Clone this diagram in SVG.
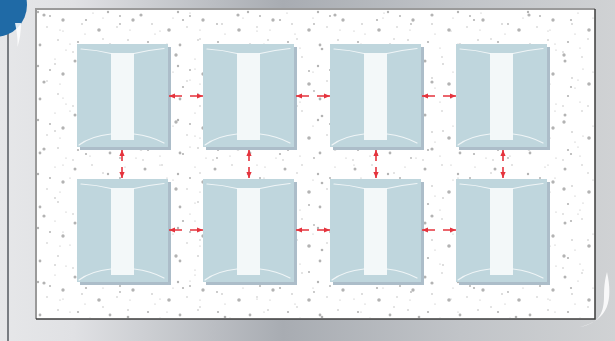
<svg xmlns="http://www.w3.org/2000/svg" xmlns:xlink="http://www.w3.org/1999/xlink" width="615" height="341" viewBox="0 0 615 341">
<style>
.blk{fill:#bfd6dd}
.shd{fill:#acbdc9}
.inn{fill:#f3f8f9}
.hl{fill:none;stroke:#ffffff;stroke-width:1.2;stroke-opacity:0.75;stroke-linecap:round}
.dot{fill:#b3b3b3}
.h{stroke:#e5333d;stroke-width:1.6;fill:none;stroke-dasharray:13 8;marker-start:url(#arr);marker-end:url(#arr)}
.v{stroke:#e5333d;stroke-width:1.6;fill:none;stroke-dasharray:11 6;marker-start:url(#arr);marker-end:url(#arr)}
</style>
<defs>
<linearGradient id="bg" x1="0" y1="0" x2="1" y2="0">
<stop offset="0" stop-color="#e6e7e9"/>
<stop offset="0.12" stop-color="#e0e1e4"/>
<stop offset="0.46" stop-color="#a8acb2"/>
<stop offset="0.75" stop-color="#c1c4c8"/>
<stop offset="1" stop-color="#d0d2d4"/>
</linearGradient>
<pattern id="dA" width="70" height="54" patternUnits="userSpaceOnUse">
<circle class="dot" cx="5" cy="7" r="1.5"/><circle class="dot" cx="22" cy="3" r="0.7"/><circle class="dot" cx="38" cy="12" r="1.2"/>
<circle class="dot" cx="55" cy="5" r="0.6"/><circle class="dot" cx="63" cy="20" r="1.7"/><circle class="dot" cx="12" cy="24" r="0.8"/>
<circle class="dot" cx="29" cy="30" r="1.8"/><circle class="dot" cx="47" cy="27" r="0.7"/><circle class="dot" cx="8" cy="42" r="1.1"/>
<circle class="dot" cx="20" cy="48" r="0.6"/><circle class="dot" cx="40" cy="45" r="1.4"/><circle class="dot" cx="58" cy="40" r="0.8"/>
<circle class="dot" cx="66" cy="50" r="0.6"/><circle class="dot" cx="33" cy="18" r="0.6"/><circle class="dot" cx="50" cy="16" r="1.0"/>
<circle class="dot" cx="15" cy="34" r="0.6"/><circle class="dot" cx="3" cy="52" r="0.7"/><circle class="dot" cx="60" cy="30" r="0.6"/>
</pattern>
<pattern id="dB" width="97" height="67" patternUnits="userSpaceOnUse" x="13" y="9">
<circle class="dot" cx="10" cy="15" r="0.9"/><circle class="dot" cx="31" cy="6" r="1.6"/><circle class="dot" cx="50" cy="22" r="0.6"/>
<circle class="dot" cx="73" cy="11" r="1.1"/><circle class="dot" cx="90" cy="30" r="0.7"/><circle class="dot" cx="18" cy="40" r="1.3"/>
<circle class="dot" cx="42" cy="55" r="0.8"/><circle class="dot" cx="66" cy="46" r="1.7"/><circle class="dot" cx="85" cy="60" r="0.6"/>
<circle class="dot" cx="5" cy="62" r="1.0"/><circle class="dot" cx="57" cy="35" r="0.6"/><circle class="dot" cx="80" cy="4" r="0.6"/>
</pattern>
<marker id="arr" viewBox="0 0 6 6" refX="6" refY="3" markerWidth="6" markerHeight="6" markerUnits="userSpaceOnUse" orient="auto-start-reverse">
<path d="M0,0.4 L6,3 L0,5.6 Z" fill="#e5333d"/>
</marker>
<g id="block">
<rect class="shd" x="3" y="3" width="91" height="103"/>
<rect class="blk" x="0" y="0" width="91" height="103"/>
<rect class="inn" x="34" y="9" width="23" height="87"/>
<path class="hl" d="M4,5 Q20,6 34,9.5"/>
<path class="hl" d="M57,9.5 Q72,6 87,4.5"/>
<path class="hl" d="M2,101 Q14,92 34,90"/>
<path class="hl" d="M57,90 Q74,92 87,99"/>
</g>
</defs>
<rect x="0" y="0" width="615" height="341" fill="url(#bg)"/>
<line x1="8" y1="0" x2="8" y2="341" stroke="#555a60" stroke-width="1.5"/>
<circle cx="-5" cy="5" r="32" fill="#1f6aa6"/>
<path d="M15,23 Q18,36 17.5,47 Q21,36 21,23 Z" fill="#ffffff" opacity="0.85"/>
<path d="M607,272 C613,300 609,320 580,327 C600,323 604,312 604,296 C604,286 605,279 607,272 Z" fill="#ffffff" opacity="0.85"/>
<g id="panel">
<rect x="36" y="9" width="559" height="310" fill="#ffffff"/>
<rect x="37" y="10" width="557" height="308" fill="url(#dA)"/>
<rect x="37" y="10" width="557" height="308" fill="url(#dB)"/>
<polyline points="36,319 36,9 595,9" fill="none" stroke="#9a9a9a" stroke-width="2"/>
<polyline points="595,9 595,319 36,319" fill="none" stroke="#3c3c3c" stroke-width="1.5"/>
</g>
<g id="node-1"><use xlink:href="#block" x="77" y="44"/></g>
<g id="node-2"><use xlink:href="#block" x="203" y="44"/></g>
<g id="node-3"><use xlink:href="#block" x="330" y="44"/></g>
<g id="node-4"><use xlink:href="#block" x="456" y="44"/></g>
<g id="node-5"><use xlink:href="#block" x="77" y="179"/></g>
<g id="node-6"><use xlink:href="#block" x="203" y="179"/></g>
<g id="node-7"><use xlink:href="#block" x="330" y="179"/></g>
<g id="node-8"><use xlink:href="#block" x="456" y="179"/></g>
<g id="connectors">
<line class="h" x1="169" y1="96" x2="203" y2="96"/>
<line class="h" x1="296" y1="96" x2="330" y2="96"/>
<line class="h" x1="422" y1="96" x2="456" y2="96"/>
<line class="h" x1="169" y1="230" x2="203" y2="230"/>
<line class="h" x1="296" y1="230" x2="330" y2="230"/>
<line class="h" x1="422" y1="230" x2="456" y2="230"/>
<line class="v" x1="122" y1="150" x2="122" y2="178"/>
<line class="v" x1="249" y1="150" x2="249" y2="178"/>
<line class="v" x1="376" y1="150" x2="376" y2="178"/>
<line class="v" x1="503" y1="150" x2="503" y2="178"/>
</g>
</svg>
